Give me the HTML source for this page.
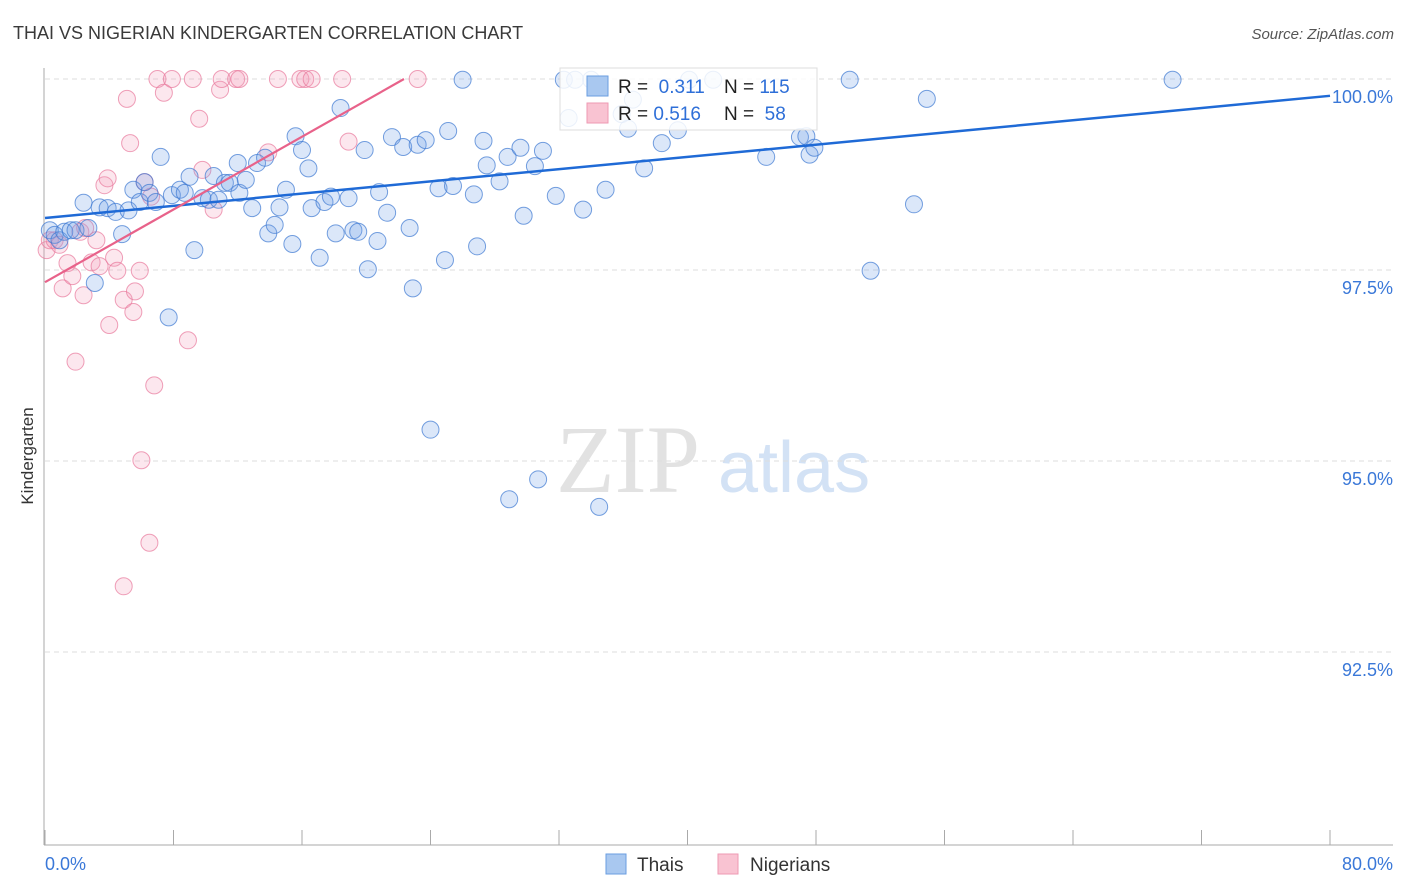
<!DOCTYPE html>
<html><head><meta charset="utf-8"><style>
body{margin:0;background:#fff;font-family:"Liberation Sans",sans-serif;}
svg{display:block}
</style></head><body>
<svg id="chart" width="1406" height="892">
<text x="13" y="39" font-size="18" fill="#3a3a3a">THAI VS NIGERIAN KINDERGARTEN CORRELATION CHART</text>
<text x="1394" y="39" font-size="15" fill="#555" font-style="italic" text-anchor="end">Source: ZipAtlas.com</text>
<text x="556" y="492" font-size="96" fill="#e2e2e2" font-family="Liberation Serif,serif">ZIP</text>
<text x="718" y="492" font-size="72" fill="#d3e2f5">atlas</text>
<text x="33" y="456" font-size="17" fill="#333" transform="rotate(-90 33 456)" text-anchor="middle">Kindergarten</text>
<g id="grid"></g><g id="axes"></g><g id="pts"></g><g id="lines"></g>
<g>
<rect x="560" y="68" width="257" height="62" fill="#fff" fill-opacity="0.85" stroke="#ddd"/>
<rect x="587" y="76" width="21" height="20" fill="#a9c8f0" stroke="#6a9ee0"/>
<rect x="587" y="103" width="21" height="20" fill="#f9c3d2" stroke="#ee9ab3"/>
<text x="618" y="93" font-size="19" fill="#222">R = <tspan fill="#2e6fd8">&#160;0.311</tspan></text>
<text x="724" y="93" font-size="19" fill="#222">N = <tspan fill="#2e6fd8">115</tspan></text>
<text x="618" y="120" font-size="19" fill="#222">R = <tspan fill="#2e6fd8">0.516</tspan></text>
<text x="724" y="120" font-size="19" fill="#222">N = <tspan fill="#2e6fd8">&#160;58</tspan></text>
</g>
<g>
<rect x="606" y="854" width="20" height="20" fill="#a9c8f0" stroke="#6a9ee0"/>
<text x="637" y="871" font-size="19" fill="#333">Thais</text>
<rect x="718" y="854" width="20" height="20" fill="#f9c3d2" stroke="#ee9ab3"/>
<text x="750" y="871" font-size="19" fill="#333">Nigerians</text>
</g>
</svg>
<script>
const yTicks=[100,97.5,95,92.5];
const yTickLabels=["100.0%","97.5%","95.0%","92.5%"];
const xEndLabels=["0.0%","80.0%"];
const thaiX=[0.3,0.6,0.9,1.2,1.6,1.9,2.4,2.7,3.1,3.4,3.9,4.4,4.8,5.2,5.5,5.9,6.2,6.5,6.9,7.2,7.7,7.9,8.4,8.7,9.0,9.3,9.8,10.2,10.5,10.8,11.2,11.5,12.0,12.1,12.5,12.9,13.2,13.7,13.9,14.3,14.6,15.0,15.4,15.6,16.0,16.4,16.6,17.1,17.4,17.8,18.1,18.4,18.9,19.2,19.5,19.9,20.1,20.7,20.8,21.3,21.6,22.3,22.7,22.9,23.2,23.7,24.0,24.5,24.9,25.1,25.4,26.0,26.7,26.9,27.3,27.5,28.3,28.8,28.9,29.6,29.8,30.5,30.7,31.0,31.8,32.3,32.6,33.0,33.5,34.0,34.5,34.9,35.9,36.3,36.6,37.3,38.4,39.4,40.1,41.6,44.9,47.0,47.4,47.6,47.9,50.1,51.4,54.1,54.9,70.2];
const thaiY=[98.02,97.96,97.89,98.00,98.02,98.02,98.38,98.05,97.33,98.32,98.31,98.26,97.97,98.28,98.55,98.39,98.65,98.51,98.39,98.98,96.88,98.48,98.55,98.51,98.72,97.76,98.44,98.42,98.73,98.42,98.64,98.64,98.90,98.51,98.68,98.31,98.90,98.97,97.98,98.09,98.32,98.55,97.84,99.25,99.07,98.83,98.31,97.66,98.39,98.46,97.98,99.62,98.44,98.02,98.00,99.07,97.51,97.88,98.52,98.25,99.24,99.11,98.05,97.26,99.14,99.20,95.41,98.57,97.63,99.32,98.60,99.99,98.49,97.81,99.19,98.87,98.66,98.98,94.50,99.10,98.21,98.86,94.76,99.06,98.47,99.99,99.49,99.99,98.29,99.99,94.40,98.55,99.54,99.35,99.73,98.83,99.16,99.33,99.99,99.99,98.98,99.24,99.25,99.01,99.10,99.99,97.49,98.36,99.74,99.99];
const nigX=[0.1,0.3,0.6,0.9,1.1,1.4,1.7,1.9,2.2,2.4,2.5,2.9,3.2,3.4,3.7,3.9,4.0,4.3,4.5,4.9,5.1,5.3,5.5,5.6,5.9,6.0,6.2,6.5,6.8,6.6,7.0,7.4,7.9,8.9,9.2,9.6,9.8,10.5,10.9,11.0,11.9,12.1,13.9,14.5,15.9,16.2,16.6,18.5,18.9,23.2,4.9];
const nigY=[97.76,97.89,97.89,97.83,97.26,97.59,97.42,96.30,98.00,97.17,98.05,97.60,97.89,97.55,98.61,98.70,96.78,97.66,97.49,97.11,99.74,99.16,96.95,97.22,97.49,95.01,98.65,93.93,95.99,98.46,100.0,99.82,100.0,96.58,100.0,99.48,98.81,98.29,99.86,100.0,100.0,100.0,99.04,100.0,100.0,100.0,100.0,100.0,99.18,100.0,93.36];
const thaiTrend=[98.18,99.78];
const nigTrend=[97.34,100.0,22.35];
const NS="http://www.w3.org/2000/svg";
const X0=45,X1=1330,Y100=79,PX25=191;
function sx(v){return X0+(v/80)*(X1-X0);}
function sy(v){return Y100+(100-v)/2.5*PX25;}
function mk(tag,attrs,parent){const e=document.createElementNS(NS,tag);for(const k in attrs)e.setAttribute(k,attrs[k]);parent.appendChild(e);return e;}
const grid=document.getElementById('grid'),axes=document.getElementById('axes'),pts=document.getElementById('pts'),lines=document.getElementById('lines');
yTicks.forEach((t,i)=>{
  const l=mk('line',{x1:45,x2:1393,y1:sy(t),y2:sy(t),stroke:'#ddd','stroke-dasharray':'5,4'},grid);
  
  
  const tx=mk('text',{x:1393,y:sy(t)+24,'font-size':18,fill:'#3a78d8','text-anchor':'end'},axes);
  tx.textContent=yTickLabels[i];
  
  
});
const ya=mk('line',{x1:44,x2:44,y1:68,y2:845,stroke:'#aaa'},axes);


const xa=mk('line',{x1:44,x2:1393,y1:845,y2:845,stroke:'#aaa'},axes);


for(let v=0;v<=80;v+=8){
  const t=mk('line',{x1:sx(v),x2:sx(v),y1:830,y2:845,stroke:'#aaa'},axes);
  
  
}
const xl0=mk('text',{x:45,y:870,'font-size':18,fill:'#3a78d8'},axes);xl0.textContent=xEndLabels[0];


const xl1=mk('text',{x:1393,y:870,'font-size':18,fill:'#3a78d8','text-anchor':'end'},axes);xl1.textContent=xEndLabels[1];


nigX.forEach((x,i)=>{
  const c=mk('circle',{cx:sx(x),cy:sy(nigY[i]),r:8.5,fill:'rgba(244,160,188,0.25)',stroke:'rgba(232,120,155,0.7)','stroke-width':1},pts);
  
  
});
thaiX.forEach((x,i)=>{
  const c=mk('circle',{cx:sx(x),cy:sy(thaiY[i]),r:8.5,fill:'rgba(110,160,230,0.25)',stroke:'rgba(60,120,210,0.7)','stroke-width':1},pts);
  
  
});
const bl=mk('line',{x1:sx(0),y1:sy(thaiTrend[0]),x2:sx(80),y2:sy(thaiTrend[1]),stroke:'#1f6ad6','stroke-width':2.5},lines);


const pl=mk('line',{x1:sx(0),y1:sy(nigTrend[0]),x2:sx(nigTrend[2]),y2:sy(nigTrend[1]),stroke:'#e8628a','stroke-width':2.2},lines);


</script>
</body></html>
